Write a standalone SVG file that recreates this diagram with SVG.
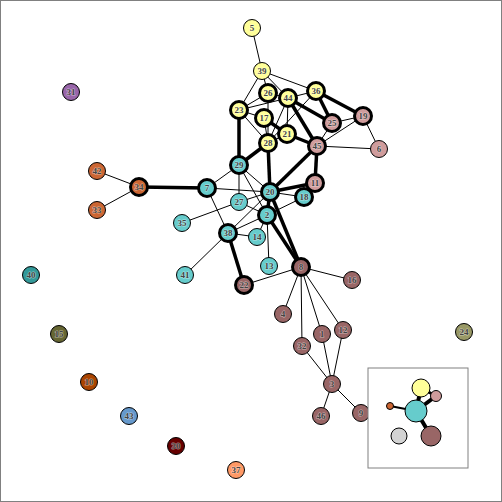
<svg xmlns="http://www.w3.org/2000/svg" width="502" height="502" viewBox="0 0 502 502">
<style>
.e{stroke:#000;stroke-width:1;fill:none}
.t{stroke:#000;stroke-width:3.5;fill:none}
circle{stroke:#000;stroke-width:1}
.b circle{stroke-width:3}
text{font-family:"Liberation Serif","DejaVu Serif",serif;font-size:9px;font-weight:bold;fill:#444;text-anchor:middle;dominant-baseline:central;stroke:#fff;stroke-opacity:0.5;stroke-width:1px;paint-order:stroke;stroke-linejoin:round}
.y{fill:#ffff99}.p{fill:#d09c9c}.c{fill:#66cccc}.r{fill:#996666}.o{fill:#cc6633}
</style>
<rect x="0.5" y="0.5" width="501" height="501" fill="#fff" stroke="#808080"/>
<g id="connectors">
<line class="e" x1="252" y1="28" x2="262" y2="71"/>
<line class="e" x1="262" y1="71" x2="239" y2="110"/>
<line class="e" x1="262" y1="71" x2="268" y2="93"/>
<line class="e" x1="262" y1="71" x2="288" y2="98"/>
<line class="e" x1="262" y1="71" x2="316" y2="91"/>
<line class="e" x1="239" y1="110" x2="268" y2="93"/>
<line class="e" x1="239" y1="110" x2="288" y2="98"/>
<line class="e" x1="239" y1="110" x2="264" y2="118"/>
<line class="e" x1="239" y1="110" x2="268" y2="143"/>
<line class="e" x1="268" y1="93" x2="288" y2="98"/>
<line class="e" x1="268" y1="93" x2="268" y2="143"/>
<line class="e" x1="288" y1="98" x2="316" y2="91"/>
<line class="e" x1="288" y1="98" x2="268" y2="143"/>
<line class="e" x1="288" y1="98" x2="287" y2="134"/>
<line class="e" x1="316" y1="91" x2="268" y2="143"/>
<line class="e" x1="264" y1="118" x2="268" y2="143"/>
<line class="e" x1="287" y1="134" x2="268" y2="143"/>
<line class="e" x1="332" y1="123" x2="363" y2="116"/>
<line class="e" x1="332" y1="123" x2="317" y2="146"/>
<line class="e" x1="363" y1="116" x2="317" y2="146"/>
<line class="e" x1="363" y1="116" x2="379" y2="149"/>
<line class="e" x1="317" y1="146" x2="379" y2="149"/>
<line class="e" x1="239" y1="165" x2="207" y2="188"/>
<line class="e" x1="239" y1="165" x2="239" y2="202"/>
<line class="e" x1="239" y1="165" x2="270" y2="192"/>
<line class="e" x1="239" y1="165" x2="267" y2="215"/>
<line class="e" x1="207" y1="188" x2="270" y2="192"/>
<line class="e" x1="207" y1="188" x2="228" y2="233"/>
<line class="e" x1="270" y1="192" x2="239" y2="202"/>
<line class="e" x1="270" y1="192" x2="228" y2="233"/>
<line class="e" x1="270" y1="192" x2="304" y2="197"/>
<line class="e" x1="239" y1="202" x2="267" y2="215"/>
<line class="e" x1="239" y1="202" x2="182" y2="223"/>
<line class="e" x1="267" y1="215" x2="304" y2="197"/>
<line class="e" x1="267" y1="215" x2="228" y2="233"/>
<line class="e" x1="267" y1="215" x2="257" y2="237"/>
<line class="e" x1="267" y1="215" x2="269" y2="266"/>
<line class="e" x1="228" y1="233" x2="257" y2="237"/>
<line class="e" x1="228" y1="233" x2="185" y2="275"/>
<line class="e" x1="244" y1="285" x2="301" y2="267"/>
<line class="e" x1="301" y1="267" x2="352" y2="280"/>
<line class="e" x1="301" y1="267" x2="283" y2="314"/>
<line class="e" x1="301" y1="267" x2="302" y2="346"/>
<line class="e" x1="301" y1="267" x2="322" y2="334"/>
<line class="e" x1="301" y1="267" x2="343" y2="330"/>
<line class="e" x1="332" y1="384" x2="302" y2="346"/>
<line class="e" x1="332" y1="384" x2="322" y2="334"/>
<line class="e" x1="332" y1="384" x2="343" y2="330"/>
<line class="e" x1="332" y1="384" x2="321" y2="416"/>
<line class="e" x1="332" y1="384" x2="361" y2="413"/>
<line class="e" x1="139" y1="187" x2="97" y2="171"/>
<line class="e" x1="139" y1="187" x2="97" y2="210"/>
<line class="t" x1="239" y1="110" x2="239" y2="165"/>
<line class="t" x1="268" y1="143" x2="239" y2="165"/>
<line class="t" x1="268" y1="143" x2="270" y2="192"/>
<line class="t" x1="288" y1="98" x2="317" y2="146"/>
<line class="t" x1="288" y1="98" x2="332" y2="123"/>
<line class="t" x1="316" y1="91" x2="332" y2="123"/>
<line class="t" x1="316" y1="91" x2="363" y2="116"/>
<line class="t" x1="264" y1="118" x2="287" y2="134"/>
<line class="t" x1="287" y1="134" x2="317" y2="146"/>
<line class="t" x1="317" y1="146" x2="315" y2="183"/>
<line class="t" x1="317" y1="146" x2="270" y2="192"/>
<line class="t" x1="315" y1="183" x2="270" y2="192"/>
<line class="t" x1="270" y1="192" x2="267" y2="215"/>
<line class="t" x1="270" y1="192" x2="301" y2="267"/>
<line class="t" x1="267" y1="215" x2="301" y2="267"/>
<line class="t" x1="207" y1="188" x2="139" y2="187"/>
<line class="t" x1="228" y1="233" x2="244" y2="285"/>
</g>
<g id="nodes">
<g id="n5"><circle class="y" cx="252" cy="28" r="8.5"/><text x="252" y="28">5</text></g>
<g id="n39"><circle class="y" cx="262" cy="71" r="8.5"/><text x="262" y="71">39</text></g>
<g id="n6"><circle class="p" cx="379" cy="149" r="8.5"/><text x="379" y="149">6</text></g>
<g id="n27"><circle class="c" cx="239" cy="202" r="8.5"/><text x="239" y="202">27</text></g>
<g id="n35"><circle class="c" cx="182" cy="223" r="8.5"/><text x="182" y="223">35</text></g>
<g id="n14"><circle class="c" cx="257" cy="237" r="8.5"/><text x="257" y="237">14</text></g>
<g id="n13"><circle class="c" cx="269" cy="266" r="8.5"/><text x="269" y="266">13</text></g>
<g id="n41"><circle class="c" cx="185" cy="275" r="8.5"/><text x="185" y="275">41</text></g>
<g id="n16"><circle class="r" cx="352" cy="280" r="8.5"/><text x="352" y="280">16</text></g>
<g id="n4"><circle class="r" cx="283" cy="314" r="8.5"/><text x="283" y="314">4</text></g>
<g id="n1"><circle class="r" cx="322" cy="334" r="8.5"/><text x="322" y="334">1</text></g>
<g id="n12"><circle class="r" cx="343" cy="330" r="8.5"/><text x="343" y="330">12</text></g>
<g id="n32"><circle class="r" cx="302" cy="346" r="8.5"/><text x="302" y="346">32</text></g>
<g id="n3"><circle class="r" cx="332" cy="384" r="8.5"/><text x="332" y="384">3</text></g>
<g id="n46"><circle class="r" cx="321" cy="416" r="8.5"/><text x="321" y="416">46</text></g>
<g id="n9"><circle class="r" cx="361" cy="413" r="8.5"/><text x="361" y="413">9</text></g>
<g id="n24"><circle fill="#999966" cx="464" cy="332" r="8.5"/><text x="464" y="332">24</text></g>
<g id="n31"><circle fill="#9966aa" cx="71" cy="92" r="8.5"/><text x="71" y="92">31</text></g>
<g id="n42"><circle class="o" cx="97" cy="171" r="8.5"/><text x="97" y="171">42</text></g>
<g id="n33"><circle class="o" cx="97" cy="210" r="8.5"/><text x="97" y="210">33</text></g>
<g id="n40"><circle fill="#339999" cx="31" cy="275" r="8.5"/><text x="31" y="275">40</text></g>
<g id="n15"><circle fill="#666633" cx="59" cy="334" r="8.5"/><text x="59" y="334">15</text></g>
<g id="n10"><circle fill="#aa4400" cx="89" cy="382" r="8.5"/><text x="89" y="382">10</text></g>
<g id="n43"><circle fill="#6699cc" cx="129" cy="416" r="8.5"/><text x="129" y="416">43</text></g>
<g id="n30"><circle fill="#660000" cx="176" cy="446" r="8.5"/><text x="176" y="446">30</text></g>
<g id="n37"><circle fill="#ff9966" cx="236" cy="470" r="8.5"/><text x="236" y="470">37</text></g>
<g class="b">
<g id="n26"><circle class="y" cx="268" cy="93" r="8.5"/><text x="268" y="93">26</text></g>
<g id="n44"><circle class="y" cx="288" cy="98" r="8.5"/><text x="288" y="98">44</text></g>
<g id="n36"><circle class="y" cx="316" cy="91" r="8.5"/><text x="316" y="91">36</text></g>
<g id="n23"><circle class="y" cx="239" cy="110" r="8.5"/><text x="239" y="110">23</text></g>
<g id="n17"><circle class="y" cx="264" cy="118" r="8.5"/><text x="264" y="118">17</text></g>
<g id="n21"><circle class="y" cx="287" cy="134" r="8.5"/><text x="287" y="134">21</text></g>
<g id="n28"><circle class="y" cx="268" cy="143" r="8.5"/><text x="268" y="143">28</text></g>
<g id="n25"><circle class="p" cx="332" cy="123" r="8.5"/><text x="332" y="123">25</text></g>
<g id="n19"><circle class="p" cx="363" cy="116" r="8.5"/><text x="363" y="116">19</text></g>
<g id="n45"><circle class="p" cx="317" cy="146" r="8.5"/><text x="317" y="146">45</text></g>
<g id="n11"><circle class="p" cx="315" cy="183" r="8.5"/><text x="315" y="183">11</text></g>
<g id="n29"><circle class="c" cx="239" cy="165" r="8.5"/><text x="239" y="165">29</text></g>
<g id="n7"><circle class="c" cx="207" cy="188" r="8.5"/><text x="207" y="188">7</text></g>
<g id="n34"><circle class="o" cx="139" cy="187" r="8.5"/><text x="139" y="187">34</text></g>
<g id="n20"><circle class="c" cx="270" cy="192" r="8.5"/><text x="270" y="192">20</text></g>
<g id="n18"><circle class="c" cx="304" cy="197" r="8.5"/><text x="304" y="197">18</text></g>
<g id="n2"><circle class="c" cx="267" cy="215" r="8.5"/><text x="267" y="215">2</text></g>
<g id="n38"><circle class="c" cx="228" cy="233" r="8.5"/><text x="228" y="233">38</text></g>
<g id="n8"><circle class="r" cx="301" cy="267" r="8.5"/><text x="301" y="267">8</text></g>
<g id="n22"><circle class="r" cx="244" cy="285" r="8.5"/><text x="244" y="285">22</text></g>
</g>
</g>
<g id="inset">
<rect x="368" y="368" width="100" height="100" fill="#fff" stroke="#808080"/>
<line x1="416" y1="411" x2="421" y2="388" stroke="#000" stroke-width="4"/>
<line x1="416" y1="411" x2="436" y2="396" stroke="#000" stroke-width="4"/>
<line x1="421" y1="388" x2="436" y2="396" stroke="#000" stroke-width="3"/>
<line x1="416" y1="411" x2="431" y2="436" stroke="#000" stroke-width="4"/>
<line x1="416" y1="411" x2="390" y2="406" stroke="#000" stroke-width="2"/>
<circle cx="421" cy="388" r="9" fill="#ffff99"/>
<circle cx="436" cy="396" r="5.5" fill="#d09c9c"/>
<circle cx="416" cy="411" r="11" fill="#66cccc"/>
<circle cx="431" cy="436" r="10" fill="#996666"/>
<circle cx="399" cy="436" r="8" fill="#d3d3d3"/>
<circle cx="390" cy="406" r="3.5" fill="#cc6633"/>
</g>
</svg>
